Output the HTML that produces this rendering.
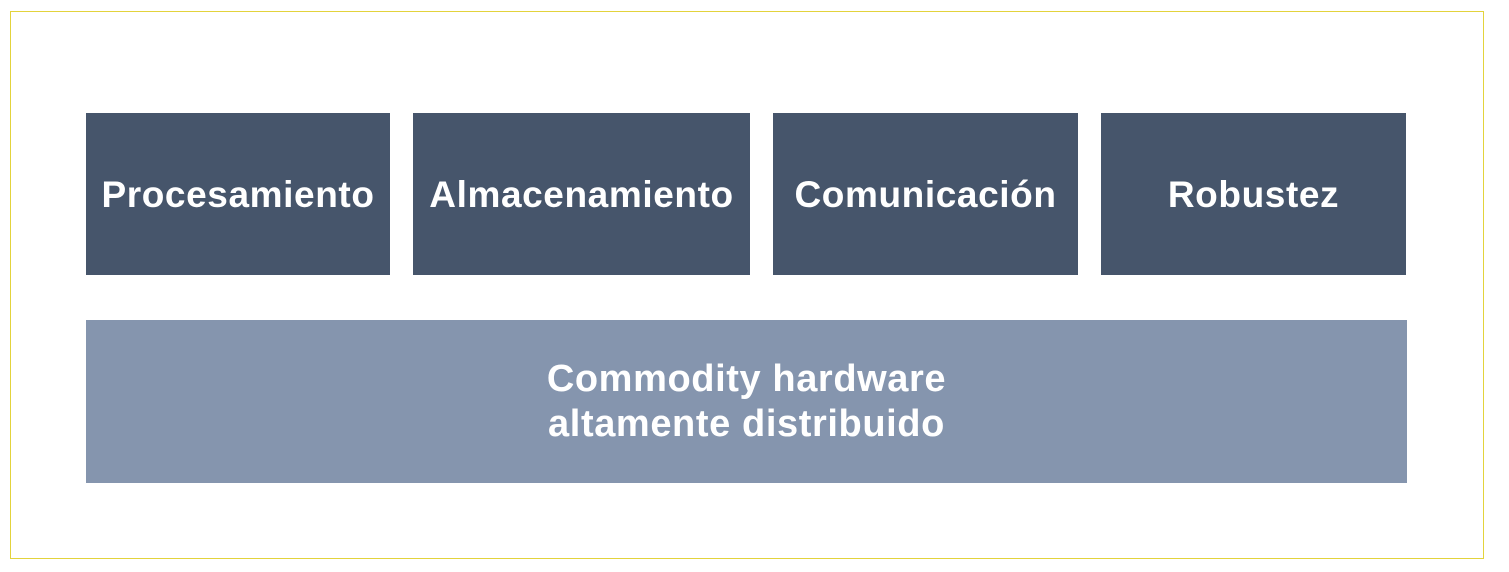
<!DOCTYPE html>
<html><head><meta charset="utf-8"><style>
body{margin:0;width:1509px;height:572px;background:#fff;position:relative;overflow:hidden;font-family:"Liberation Sans",sans-serif}
.frame{position:absolute;left:10px;top:11px;width:1472px;height:546px;border:1px solid #e3d33c}
.b{position:absolute;display:flex;align-items:center;justify-content:center;color:#fff;font-weight:bold;font-size:37px;letter-spacing:0.6px;text-align:center;line-height:45px}
.d{background:#46556b;top:113px;height:162px}
</style></head><body>
<div class="frame"></div>
<div class="b d" style="left:86px;width:304px">Procesamiento</div>
<div class="b d" style="left:413px;width:337px">Almacenamiento</div>
<div class="b d" style="left:773px;width:305px">Comunicación</div>
<div class="b d" style="left:1101px;width:305px">Robustez</div>
<div class="b" style="left:86px;top:320px;width:1321px;height:163px;background:#8595ae;font-size:38px">Commodity hardware<br>altamente distribuido</div>
</body></html>
